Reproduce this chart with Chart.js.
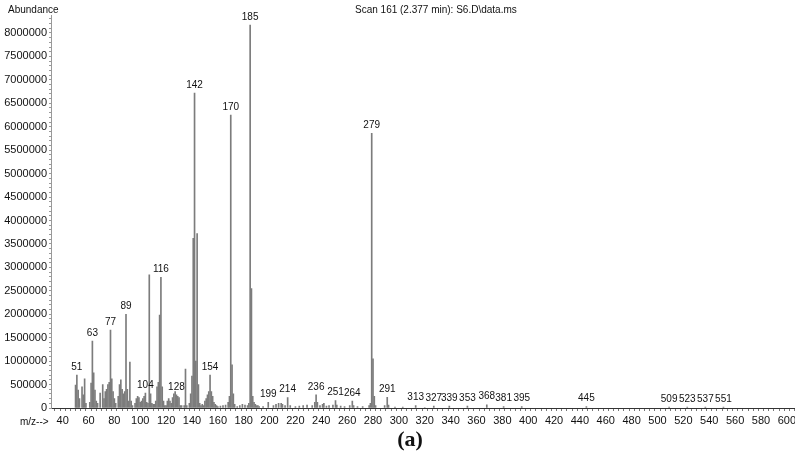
<!DOCTYPE html>
<html>
<head>
<meta charset="utf-8">
<script src="https://cdn.jsdelivr.net/npm/chart.js@4"></script>
<style>
  html, body { margin: 0; padding: 0; background: #fff; }
  #wrap { width: 795px; height: 454px; position: relative; }
</style>
</head>
<body>
<div id="wrap"><canvas id="ms"></canvas></div>
<script>
// m/z positions and abundances
const mzValues = [
  50,51,52,53,55,56,57,58,61,62,63,64,65,66,67,69,71,72,73,74,75,76,77,78,79,80,81,83,84,85,86,87,88,89,90,91,92,93,94,
  96,97,98,99,100,101,102,103,104,105,106,107,108,109,110,111,112,113,114,115,116,117,118,119,
  120,121,122,123,124,125,126,127,128,129,130,131,132,134,135,136,138,139,140,141,142,143,144,145,146,
  147,148,149,150,151,152,153,154,155,156,157,158,159,160,162,164,166,168,169,170,171,172,173,
  175,177,179,181,183,184,185,186,187,188,189,190,191,192,195,199,203,205,207,209,210,212,214,216,220,223,226,229,
  233,235,236,237,239,241,242,244,246,249,251,252,255,258,262,264,265,268,272,277,278,279,280,281,282,289,291,292,
  297,303,313,320,327,339,353,368,381,395,445,509,523,537,551
];
const abundance = [
  490000,700000,380000,200000,450000,280000,620000,100000,120000,530000,1430000,750000,380000,150000,100000,320000,500000,200000,350000,400000,500000,550000,1660000,620000,350000,200000,100000,250000,500000,600000,400000,300000,350000,2000000,400000,150000,980000,150000,50000,
  100000,200000,250000,220000,120000,150000,200000,250000,320000,120000,100000,2840000,300000,100000,80000,80000,150000,450000,550000,1980000,2790000,450000,150000,50000,
  50000,150000,200000,150000,100000,220000,300000,350000,280000,250000,220000,50000,50000,50000,830000,50000,100000,300000,680000,3620000,6720000,1000000,3720000,500000,100000,
  50000,80000,50000,150000,200000,280000,350000,700000,350000,250000,120000,80000,50000,30000,40000,50000,60000,120000,250000,6250000,920000,300000,80000,
  30000,50000,80000,60000,50000,100000,8170000,2550000,250000,120000,80000,50000,50000,30000,30000,120000,50000,80000,100000,100000,80000,50000,220000,50000,30000,40000,50000,60000,
  50000,120000,280000,120000,50000,80000,100000,40000,50000,60000,160000,60000,40000,30000,50000,150000,50000,30000,30000,50000,100000,5860000,1050000,250000,50000,50000,230000,60000,
  20000,20000,50000,10000,40000,40000,40000,70000,30000,30000,30000,20000,20000,20000,20000
];
const labeledPeaks = [51,63,77,89,104,116,128,142,154,170,185,199,214,236,251,264,279,291,313,327,339,353,368,381,395,445,509,523,537,551];
const xTickStep = 20;
const yTickStep = 500000;

const FONT = '"Liberation Sans", Arial, sans-serif';

const textPlugin = {
  id: 'msText',
  afterDatasetsDraw(chart) {
    const {ctx, scales: {x, y}} = chart;
    ctx.save();
    ctx.fillStyle = '#111';
    ctx.font = '10px ' + FONT;
    ctx.textAlign = 'center';
    ctx.textBaseline = 'bottom';
    labeledPeaks.forEach(mz => {
      const i = mzValues.indexOf(mz);
      if (i < 0) return;
      ctx.fillText(String(mz), x.getPixelForValue(mz), y.getPixelForValue(abundance[i]) - 3);
    });
    // headers
    ctx.font = '10px ' + FONT;
    ctx.textBaseline = 'middle';
    ctx.textAlign = 'left';
    ctx.fillText('Abundance', 8, 10);
    ctx.fillText('Scan 161 (2.377 min): S6.D\\data.ms', 355, 10);
    ctx.fillText('m/z-->', 20, 422);
    ctx.font = 'bold 22px "Liberation Serif", "Times New Roman", serif';
    ctx.textAlign = 'center';
    ctx.fillText('(a)', 410, 440);
    ctx.restore();
  }
};

new Chart(document.getElementById('ms'), {
  type: 'bar',
  data: {
    datasets: [{
      data: mzValues.map((m, i) => ({x: m, y: abundance[i]})),
      backgroundColor: '#7c7c7c',
      borderWidth: 0,
      barThickness: 1,
      grouped: false
    }]
  },
  options: {
    responsive: true,
    maintainAspectRatio: false,
    animation: false,
    layout: {padding: {top: 15, right: 0, left: 0, bottom: 0}},
    plugins: {legend: {display: false}, tooltip: {enabled: false}},
    scales: {
      x: {
        type: 'linear',
        min: 31,
        max: 606,
        offset: false,
        border: {color: '#333', width: 1},
        grid: {drawOnChartArea: false, drawTicks: true, tickLength: 3, color: '#777'},
        afterBuildTicks(scale) {
          const t = [];
          for (let v = 32; v <= 604; v += 4) t.push({value: v});
          scale.ticks = t;
        },
        ticks: {
          autoSkip: false,
          maxRotation: 0,
          padding: 3,
          color: '#111',
          font: {family: FONT, size: 11},
          callback: v => (v % xTickStep === 0 ? String(v) : '')
        },
        afterFit(scale) { scale.height = 46; }
      },
      y: {
        min: 0,
        max: 8384000,
        border: {color: '#999', width: 1},
        grid: {drawOnChartArea: false, drawTicks: true, tickLength: 2, color: '#999'},
        afterBuildTicks(scale) {
          const t = [];
          for (let v = 0; v <= 8300000; v += 100000) t.push({value: v});
          scale.ticks = t;
        },
        ticks: {
          autoSkip: false,
          padding: 2,
          color: '#111',
          font: {family: FONT, size: 11},
          callback: v => (v % yTickStep === 0 ? String(v) : '')
        },
        afterFit(scale) { scale.width = 51; }
      }
    }
  },
  plugins: [textPlugin]
});
</script>
</body>
</html>
